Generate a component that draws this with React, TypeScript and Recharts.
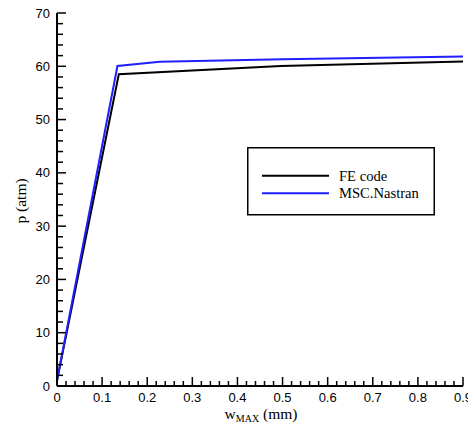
import { LineChart, Line, XAxis, YAxis } from 'recharts';

// values
const feCodeX = [0, 0.137, 0.496, 0.9];
const feCodeP = [1, 58.5, 60.05, 60.9];
const nastranX = [0, 0.134, 0.228, 0.5, 0.9];
const nastranP = [1, 60.05, 60.85, 61.3, 61.85];

const xMajorTicks = [0, 0.1, 0.2, 0.3, 0.4, 0.5, 0.6, 0.7, 0.8, 0.9];
const yMajorTicks = [0, 10, 20, 30, 40, 50, 60, 70];
const xMinorStep = 0.02;
const yMinorStep = 2;

const seriesNames = ['FE code', 'MSC.Nastran'];
const seriesColors = ['#000000', '#1f1fff'];

const feData = feCodeX.map((x, i) => ({ x, p: feCodeP[i] }));
const nastranData = nastranX.map((x, i) => ({ x, p: nastranP[i] }));

// every minor tick between the first and last major one
const withMinor = (major: number[], step: number) => {
    const out: number[] = [];
    const n = Math.round((major[major.length - 1] - major[0]) / step);
    for (let k = 0; k <= n; k++) out.push(Math.round((major[0] + k * step) * 1000) / 1000);
    return out;
};
const xTicks = withMinor(xMajorTicks, xMinorStep);
const yTicks = withMinor(yMajorTicks, yMinorStep);

const isMajor = (list: number[], v: number) => list.some((m) => Math.abs(m - v) < 1e-6);
const tickFont = { fontFamily: 'Liberation Sans, Arial, sans-serif', fontSize: 13, fill: '#000' };
const serif = 'Liberation Serif, Times New Roman, serif';

const XTick = (props: any) => {
    const { x, y, payload } = props;
    const major = isMajor(xMajorTicks, payload.value);
    return (
        <g>
            <line x1={x} x2={x} y1={y} y2={y - (major ? 9 : 5)} stroke="#000" strokeWidth={1.5} />
            {major && (
                <text x={x} y={y + 16} textAnchor="middle" {...tickFont}>
                    {String(payload.value)}
                </text>
            )}
        </g>
    );
};

const YTick = (props: any) => {
    const { x, y, payload } = props;
    const major = isMajor(yMajorTicks, payload.value);
    return (
        <g>
            <line x1={x} x2={x + (major ? 9 : 6)} y1={y} y2={y} stroke="#000" strokeWidth={1.5} />
            {major && (
                <text x={x - 7} y={y + 4.5} textAnchor="end" {...tickFont}>
                    {String(payload.value)}
                </text>
            )}
        </g>
    );
};

const LegendBox = () => (
    <svg width={188} height={69} style={{ display: 'block' }}>
        <rect x={0.75} y={0.75} width={186.5} height={67} fill="#fff" stroke="#000" strokeWidth={1.5} />
        {seriesNames.map((name, i) => (
            <g key={name}>
                <line x1={15} x2={82} y1={28.7 + i * 17.6} y2={28.7 + i * 17.6} stroke={seriesColors[i]} strokeWidth={2} />
                <text x={92} y={33.5 + i * 17.3} fontFamily={serif} fontSize={14.6} fill="#000">
                    {name}
                </text>
            </g>
        ))}
    </svg>
);

export default function App() {
    return (
        <div style={{ position: 'absolute', left: 0, top: 0, width: 468, height: 423, background: '#fff' }}>
            <LineChart width={468} height={423} margin={{ top: 13, right: 5, bottom: 0, left: 0 }}>
                <XAxis
                    xAxisId="bottom"
                    type="number"
                    dataKey="x"
                    domain={[0, 0.9]}
                    ticks={xTicks}
                    interval={0}
                    height={37}
                    tickSize={0}
                    tickMargin={0}
                    tick={<XTick />}
                    tickLine={false}
                    axisLine={{ stroke: '#000', strokeWidth: 2 }}
                    allowDataOverflow
                    label={{
                        content: (p: any) => {
                            const vb = p.viewBox || { x: 57, width: 406 };
                            const cx = vb.x + vb.width / 2 + 1;
                            return (
                                <text x={cx} y={419} textAnchor="middle" fontFamily={serif} fontSize={15.5} fill="#000">
                                    w
                                    <tspan fontSize={10} dy={3}>MAX</tspan>
                                    <tspan dy={-3}> (mm)</tspan>
                                </text>
                            );
                        },
                    }}
                />
                <XAxis
                    xAxisId="top"
                    orientation="top"
                    type="number"
                    domain={[0, 0.9]}
                    height={0}
                    tick={false}
                    tickLine={false}
                    axisLine={{ stroke: '#000', strokeWidth: 2 }}
                />
                <YAxis
                    yAxisId="left"
                    type="number"
                    dataKey="p"
                    domain={[0, 70]}
                    ticks={yTicks}
                    interval={0}
                    width={57}
                    tickSize={0}
                    tickMargin={0}
                    tick={<YTick />}
                    tickLine={false}
                    axisLine={{ stroke: '#000', strokeWidth: 2 }}
                    allowDataOverflow
                    label={{
                        content: () => (
                            <text
                                x={20}
                                y={201}
                                transform="rotate(-90 20 201)"
                                textAnchor="middle"
                                dominantBaseline="central"
                                fontFamily={serif}
                                fontSize={15.5}
                                fill="#000"
                            >
                                p (atm)
                            </text>
                        ),
                    }}
                />
                <YAxis
                    yAxisId="right"
                    orientation="right"
                    type="number"
                    domain={[0, 70]}
                    width={0}
                    tick={false}
                    tickLine={false}
                    axisLine={{ stroke: '#000', strokeWidth: 2 }}
                />
                <Line
                    xAxisId="bottom"
                    yAxisId="left"
                    data={feData}
                    dataKey="p"
                    name={seriesNames[0]}
                    stroke={seriesColors[0]}
                    strokeWidth={2}
                    dot={false}
                    isAnimationActive={false}
                />
                <Line
                    xAxisId="bottom"
                    yAxisId="left"
                    data={nastranData}
                    dataKey="p"
                    name={seriesNames[1]}
                    stroke={seriesColors[1]}
                    strokeWidth={2}
                    dot={false}
                    isAnimationActive={false}
                />
            </LineChart>
            <div style={{ position: 'absolute', left: 247, top: 147 }}>
                <LegendBox />
            </div>
        </div>
    );
}
